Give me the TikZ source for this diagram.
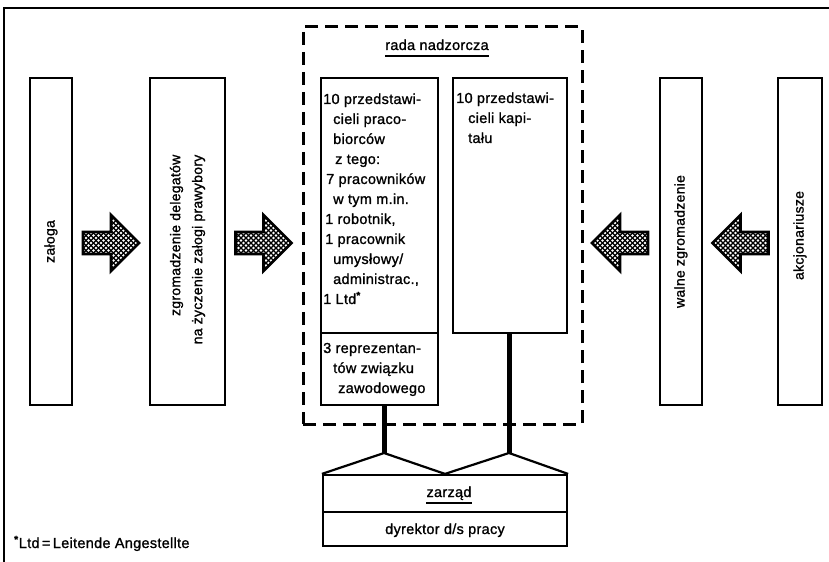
\documentclass[tikz,border=0pt]{standalone}
\usepackage{fontspec}
\setmainfont[LetterSpace=2, FakeBold=1.2]{Liberation Sans}
\usetikzlibrary{calc}
\newcommand\diagfont{\fontsize{14.5bp}{20bp}\selectfont}
\newcommand\vfont{\fontsize{14bp}{22bp}\selectfont}
\newcommand\supstar{\textsuperscript{\textbf{*}}}

\begin{document}
\begin{tikzpicture}[x=1bp, y=-1bp,
  box/.style={draw, line width=2.2bp, inner sep=0pt},
  council/.style={draw, line width=3bp, dash pattern=on 13bp off 7bp, inner sep=0pt},
  label/.style={inner sep=0pt, font=\diagfont},
  vlabel/.style={inner sep=0pt, rotate=90, font=\vfont, align=right},
  link/.style={line width=2.2bp, line join=round},
  stem/.style={line width=5bp},
  ul/.style={line width=2.6bp},
  frame/.style={line width=2bp},
  fatarrow/.pic={
    \path[fill=black, draw=black, line width=2.8bp, line join=miter,
      path picture={
        \foreach \i in {-6,...,6}
          \foreach \j in {-6,...,6} {
            \fill[white] ($(path picture bounding box.center)+(\i*5,\j*5)$) circle (1.45);
            \fill[white] ($(path picture bounding box.center)+(\i*5+2.5,\j*5+2.5)$) circle (1.45);
          }
      }]
      (-28,-11) -- (0,-11) -- (0,-28) -- (28,0) -- (0,28) -- (0,11) -- (-28,11) -- cycle;
  }]
\useasboundingbox (0,0) rectangle (829,562);

% page frame
\draw[frame] (4,562) -- (4,8) -- (829,8);

% employee side
\node[box, minimum width=42bp, minimum height=327bp] (zaloga) at (51,241.5) {};
\node[vlabel] (zalogaT) at (zaloga.center) {załoga};
\node[box, minimum width=75bp, minimum height=327bp] (delegaci) at (187.5,241.5) {};
\node[vlabel] (delegaciT) at ($(delegaci.center)+(0,8)$) {zgromadzenie delegatów\\na życzenie załogi prawybory};

% shareholder side
\node[box, minimum width=42bp, minimum height=327bp] (walne) at (681,241.5) {};
\node[vlabel] (walneT) at (walne.center) {walne zgromadzenie};
\node[box, minimum width=44bp, minimum height=327bp] (akcje) at (800,241.5) {};
\node[vlabel] (akcjeT) at ($(akcje.center)+(0,-6)$) {akcjonariusze};

% hatched arrows
\pic at (111,243) {fatarrow};
\pic at (263.5,243) {fatarrow};
\pic[rotate=180] at (620,243) {fatarrow};
\pic[rotate=180] at (740.5,243) {fatarrow};

% supervisory board
\node[council, minimum width=279bp, minimum height=397bp] (rada) at (442.5,225.5) {};
\node[label, anchor=base] (radaT) at (437,50) {rada nadzorcza};
\draw[ul] ($(radaT.base west)+(0,6)$) -- ($(radaT.base east)+(0,6)$);

\node[box, minimum width=117bp, minimum height=255bp] (pracobiorcy) at (379.5,205.5) {};
\node[box, minimum width=117bp, minimum height=72bp] (zwiazek) at (379.5,369) {};
\node[box, minimum width=114bp, minimum height=255bp] (kapital) at (510,205.5) {};

\node[label, anchor=base west] (pracobiorcyT) at (323,104) {\begin{tabular}[t]{@{}l@{}}
10 przedstawi-\\
\hspace*{10bp}cieli praco-\\
\hspace*{10bp}biorców\\
\hspace*{12bp}z tego:\\
\hspace*{3bp}7 pracowników\\
\hspace*{10bp}w tym m.in.\\
\hspace*{2bp}1 robotnik,\\
\hspace*{2bp}1 pracownik\\
\hspace*{10bp}umysłowy/\\
\hspace*{10bp}administrac.,\\
1 Ltd\supstar
\end{tabular}};
\node[label, anchor=base west] (zwiazekT) at (323,353) {\begin{tabular}[t]{@{}l@{}}
3 reprezentan-\\
\hspace*{10bp}tów związku\\
\hspace*{15bp}zawodowego
\end{tabular}};
\node[label, anchor=base west] (kapitalT) at (456,103) {\begin{tabular}[t]{@{}l@{}}
10 przedstawi-\\
\hspace*{12bp}cieli kapi-\\
\hspace*{12bp}tału
\end{tabular}};

% management board
\node[box, minimum width=244bp, minimum height=37bp] (zarzad) at (445,493.5) {};
\node[box, minimum width=244bp, minimum height=34bp] (dyrektor) at (445,529) {};
\node[label, anchor=base] (zarzadT) at (449,497) {zarząd};
\draw[ul] ($(zarzadT.base west)+(0,6)$) -- ($(zarzadT.base east)+(0,6)$);
\node[label, anchor=base] (dyrektorT) at (445,534) {dyrektor d/s pracy};

\coordinate (jl) at (384,453);
\coordinate (jr) at (509,453);
\draw[stem] (zwiazek.south -| jl) -- (jl);
\draw[stem] (kapital.south -| jr) -- (jr);
\draw[link] (zarzad.north west) -- (jl) -- (zarzad.north) -- (jr) -- (zarzad.north east);

% footnote
\node[label, anchor=base west] (przypis) at (14,548) {\supstar Ltd\,=\,Leitende Angestellte};
\end{tikzpicture}
\end{document}
